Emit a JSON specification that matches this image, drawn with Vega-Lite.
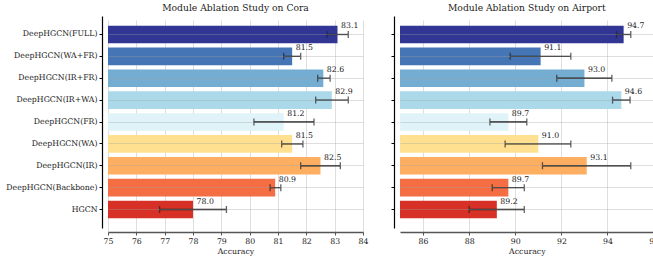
{
  "$schema": "https://vega.github.io/schema/vega-lite/v6.json",
  "padding": {"left": 5, "top": 3, "right": 0, "bottom": 0},
  "background": "white",
  "bounds": "flush",
  "spacing": 37,
  "config": {
    "font": "DejaVu Serif",
    "view": {"stroke": null},
    "title": {"font": "DejaVu Serif", "fontSize": 9.2, "fontWeight": "normal", "color": "#222", "offset": 3},
    "axis": {"labelFont": "DejaVu Serif", "titleFont": "DejaVu Serif", "labelColor": "#222", "titleColor": "#222", "titleFontWeight": "normal"},
    "axisX": {"labelOverlap": false, "labelFlush": false, "offset": 4, "domainColor": "#555", "domainWidth": 1.5, "tickColor": "#555", "tickSize": 3, "labelFontSize": 7.8, "titleFontSize": 7.8, "titlePadding": 3, "labelPadding": 2, "grid": true, "gridColor": "#a0a0a0", "gridOpacity": 0.35, "gridWidth": 1, "zindex": 1}
  },
  "datasets": {
    "cora": [
      {"method": "DeepHGCN(FULL)", "acc": 83.1, "lo": 82.73, "hi": 83.48},
      {"method": "DeepHGCN(WA+FR)", "acc": 81.5, "lo": 81.2, "hi": 81.8},
      {"method": "DeepHGCN(IR+FR)", "acc": 82.6, "lo": 82.4, "hi": 82.84},
      {"method": "DeepHGCN(IR+WA)", "acc": 82.9, "lo": 82.33, "hi": 83.48},
      {"method": "DeepHGCN(FR)", "acc": 81.2, "lo": 80.15, "hi": 82.27},
      {"method": "DeepHGCN(WA)", "acc": 81.5, "lo": 81.13, "hi": 81.88},
      {"method": "DeepHGCN(IR)", "acc": 82.5, "lo": 81.8, "hi": 83.2},
      {"method": "DeepHGCN(Backbone)", "acc": 80.9, "lo": 80.72, "hi": 81.1},
      {"method": "HGCN", "acc": 78.0, "lo": 76.82, "hi": 79.18}
    ],
    "airport": [
      {"method": "DeepHGCN(FULL)", "acc": 94.7, "lo": 94.39, "hi": 95.01},
      {"method": "DeepHGCN(WA+FR)", "acc": 91.1, "lo": 89.78, "hi": 92.41},
      {"method": "DeepHGCN(IR+FR)", "acc": 93.0, "lo": 91.8, "hi": 94.19},
      {"method": "DeepHGCN(IR+WA)", "acc": 94.6, "lo": 94.22, "hi": 94.98},
      {"method": "DeepHGCN(FR)", "acc": 89.7, "lo": 88.9, "hi": 90.5},
      {"method": "DeepHGCN(WA)", "acc": 91.0, "lo": 89.56, "hi": 92.41},
      {"method": "DeepHGCN(IR)", "acc": 93.1, "lo": 91.18, "hi": 95.01},
      {"method": "DeepHGCN(Backbone)", "acc": 89.7, "lo": 89.0, "hi": 90.39},
      {"method": "HGCN", "acc": 89.2, "lo": 88.0, "hi": 90.39}
    ]
  },
  "hconcat": [
    {
      "width": 255,
      "height": 212,
      "title": "Module Ablation Study on Cora",
      "data": {"name": "cora"},
      "encoding": {
        "y": {"field": "method", "type": "nominal", "sort": null,
          "scale": {"paddingInner": 0.19, "paddingOuter": 0.44},
          "axis": {"title": null, "offset": 6, "domainColor": "#000", "domainWidth": 1.2, "tickSize": 3, "tickColor": "#000", "labelPadding": 2, "labelFontSize": 7.8, "grid": true, "gridColor": "#a0a0a0", "gridOpacity": 0.35, "gridWidth": 1, "bandPosition": 0.5, "zindex": 1}}
      },
      "layer": [
        {"mark": {"type": "bar"},
         "encoding": {
           "x": {"field": "acc", "type": "quantitative",
             "scale": {"domain": [75, 84], "nice": false, "zero": false},
             "axis": {"title": "Accuracy", "values": [75, 76, 77, 78, 79, 80, 81, 82, 83, 84]}},
           "x2": {"datum": 75},
           "color": {"field": "method", "type": "nominal", "sort": null, "legend": null,
             "scale": {"domain": ["DeepHGCN(FULL)", "DeepHGCN(WA+FR)", "DeepHGCN(IR+FR)", "DeepHGCN(IR+WA)", "DeepHGCN(FR)", "DeepHGCN(WA)", "DeepHGCN(IR)", "DeepHGCN(Backbone)", "HGCN"],
               "range": ["#313695", "#4575b4", "#74add1", "#abd9e9", "#e0f3f8", "#fee090", "#fdae61", "#f46d43", "#d73027"]}}
         }},
        {"mark": {"type": "rule", "color": "#222", "strokeWidth": 1.3},
         "encoding": {"x": {"field": "lo", "type": "quantitative", "axis": {"title": "Accuracy", "values": [75, 76, 77, 78, 79, 80, 81, 82, 83, 84]}}, "x2": {"field": "hi"}}},
        {"mark": {"type": "tick", "color": "#222", "thickness": 1.3, "size": 7},
         "encoding": {"x": {"field": "lo", "type": "quantitative", "axis": {"title": "Accuracy", "values": [75, 76, 77, 78, 79, 80, 81, 82, 83, 84]}}}},
        {"mark": {"type": "tick", "color": "#222", "thickness": 1.3, "size": 7},
         "encoding": {"x": {"field": "hi", "type": "quantitative", "axis": {"title": "Accuracy", "values": [75, 76, 77, 78, 79, 80, 81, 82, 83, 84]}}}},
        {"mark": {"type": "text", "align": "left", "baseline": "middle", "dx": 3.5, "dy": -8, "fontSize": 7.8, "color": "#222"},
         "encoding": {"x": {"field": "acc", "type": "quantitative", "axis": {"title": "Accuracy", "values": [75, 76, 77, 78, 79, 80, 81, 82, 83, 84]}}, "text": {"field": "acc", "type": "quantitative", "format": ".1f"}}}
      ]
    },
    {
      "width": 253.6,
      "height": 212,
      "title": "Module Ablation Study on Airport",
      "data": {"name": "airport"},
      "encoding": {
        "y": {"field": "method", "type": "nominal", "sort": null,
          "scale": {"paddingInner": 0.19, "paddingOuter": 0.44},
          "axis": {"title": null, "labels": false, "offset": 6, "domainColor": "#000", "domainWidth": 1.2, "tickSize": 3, "tickColor": "#000", "grid": true, "gridColor": "#a0a0a0", "gridOpacity": 0.35, "gridWidth": 1, "bandPosition": 0.5, "zindex": 1}}
      },
      "layer": [
        {"mark": {"type": "bar"},
         "encoding": {
           "x": {"field": "acc", "type": "quantitative",
             "scale": {"domain": [85, 96], "nice": false, "zero": false},
             "axis": {"title": "Accuracy", "values": [86, 88, 90, 92, 94, 96]}},
           "x2": {"datum": 85},
           "color": {"field": "method", "type": "nominal", "sort": null, "legend": null,
             "scale": {"domain": ["DeepHGCN(FULL)", "DeepHGCN(WA+FR)", "DeepHGCN(IR+FR)", "DeepHGCN(IR+WA)", "DeepHGCN(FR)", "DeepHGCN(WA)", "DeepHGCN(IR)", "DeepHGCN(Backbone)", "HGCN"],
               "range": ["#313695", "#4575b4", "#74add1", "#abd9e9", "#e0f3f8", "#fee090", "#fdae61", "#f46d43", "#d73027"]}}
         }},
        {"mark": {"type": "rule", "color": "#222", "strokeWidth": 1.3},
         "encoding": {"x": {"field": "lo", "type": "quantitative", "axis": {"title": "Accuracy", "values": [86, 88, 90, 92, 94, 96]}}, "x2": {"field": "hi"}}},
        {"mark": {"type": "tick", "color": "#222", "thickness": 1.3, "size": 7},
         "encoding": {"x": {"field": "lo", "type": "quantitative", "axis": {"title": "Accuracy", "values": [86, 88, 90, 92, 94, 96]}}}},
        {"mark": {"type": "tick", "color": "#222", "thickness": 1.3, "size": 7},
         "encoding": {"x": {"field": "hi", "type": "quantitative", "axis": {"title": "Accuracy", "values": [86, 88, 90, 92, 94, 96]}}}},
        {"mark": {"type": "text", "align": "left", "baseline": "middle", "dx": 3.5, "dy": -8, "fontSize": 7.8, "color": "#222"},
         "encoding": {"x": {"field": "acc", "type": "quantitative", "axis": {"title": "Accuracy", "values": [86, 88, 90, 92, 94, 96]}}, "text": {"field": "acc", "type": "quantitative", "format": ".1f"}}}
      ]
    }
  ],
  "resolve": {"scale": {"x": "independent", "y": "independent", "color": "shared"}}
}
